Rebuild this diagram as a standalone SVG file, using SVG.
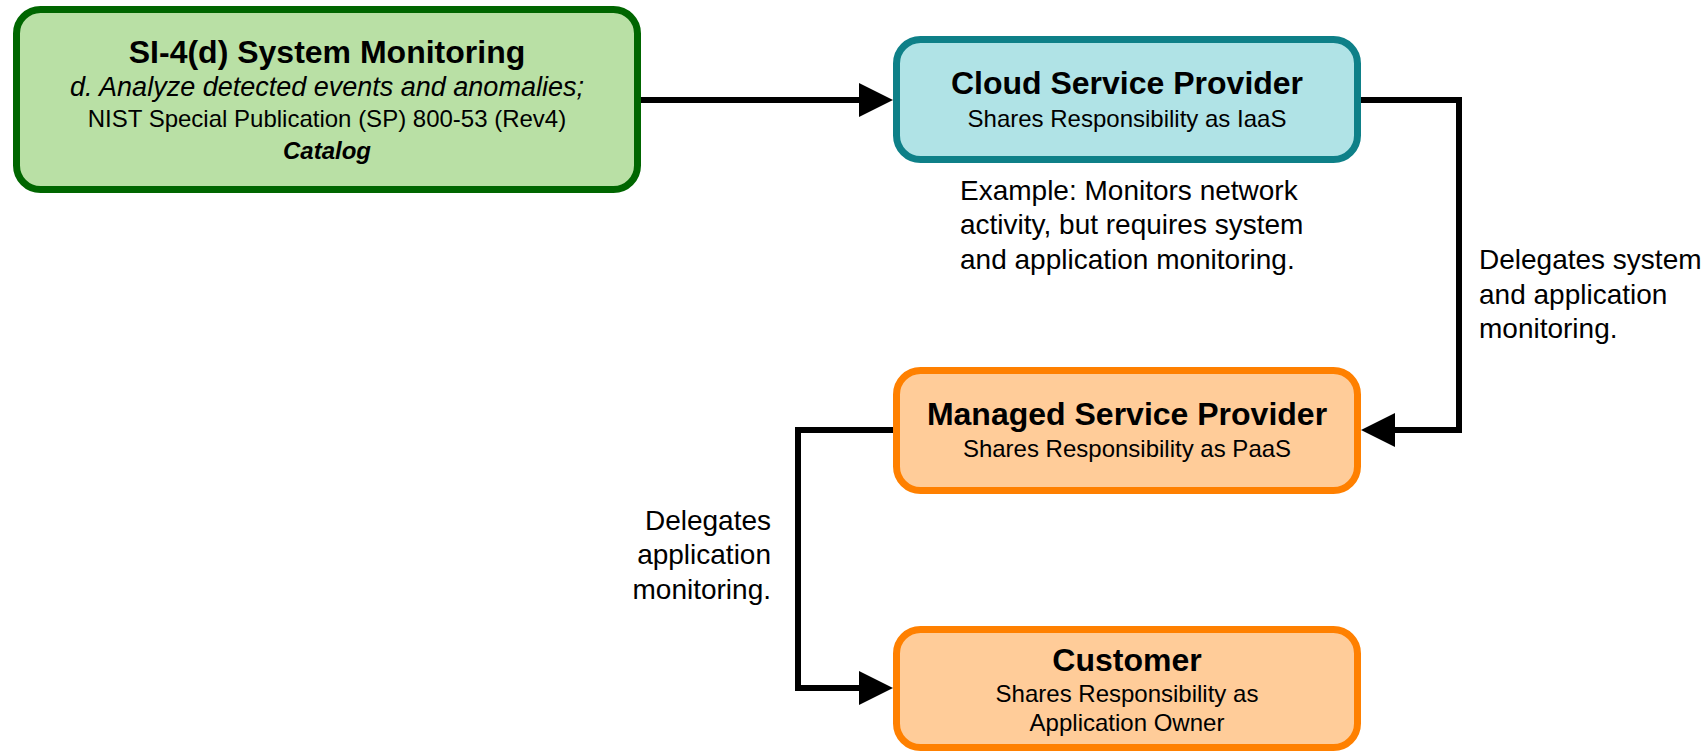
<svg xmlns="http://www.w3.org/2000/svg" width="1708" height="751" viewBox="0 0 1708 751">
<style>
text{font-family:"Liberation Sans",Arial,Helvetica,sans-serif;fill:#000}
.t{font-size:32px;font-weight:bold;text-anchor:middle}
.s{font-size:24px;text-anchor:middle}
.i{font-size:27px;font-style:italic;text-anchor:middle}
.c{font-size:24px;font-style:italic;font-weight:bold;text-anchor:middle}
.a{font-size:28px}
.box{stroke-width:7}
.green{fill:#b9e0a5;stroke:#006600}
.teal{fill:#b0e3e6;stroke:#0e8088}
.orange{fill:#ffcc99;stroke:#ff8000}
.edge{fill:none;stroke:#000;stroke-width:6;stroke-linejoin:miter}
</style>
<defs>
<marker id="arr" viewBox="0 0 34 34" markerWidth="34" markerHeight="34" refX="1" refY="17" orient="auto" markerUnits="userSpaceOnUse">
<path d="M0,0 L34,17 L0,34 Z" fill="#000"/>
</marker>
</defs>
<rect width="1708" height="751" fill="#fff"/>
<g id="connectors">
<path class="edge" d="M641,100 H860" marker-end="url(#arr)"/>
<path class="edge" d="M1361,100 H1459 V430 H1394" marker-end="url(#arr)"/>
<path class="edge" d="M893,430 H798 V688 H860" marker-end="url(#arr)"/>
</g>
<g id="si4">
<rect class="box green" x="16.5" y="9.5" width="621" height="180" rx="24"/>
<text class="t" x="327" y="63">SI-4(d) System Monitoring</text>
<text class="i" x="327" y="96">d. Analyze detected events and anomalies;</text>
<text class="s" x="327" y="127">NIST Special Publication (SP) 800-53 (Rev4)</text>
<text class="c" x="327" y="159">Catalog</text>
</g>
<g id="csp">
<rect class="box teal" x="896.5" y="39.5" width="461" height="120" rx="24"/>
<text class="t" x="1127" y="94">Cloud Service Provider</text>
<text class="s" x="1127" y="127">Shares Responsibility as IaaS</text>
</g>
<g id="csp-note">
<text class="a" x="960" y="200">Example: Monitors network</text>
<text class="a" x="960" y="234">activity, but requires system</text>
<text class="a" x="960" y="269">and application monitoring.</text>
</g>
<g id="msp">
<rect class="box orange" x="896.5" y="370.5" width="461" height="120" rx="24"/>
<text class="t" x="1127" y="425">Managed Service Provider</text>
<text class="s" x="1127" y="457">Shares Responsibility as PaaS</text>
</g>
<g id="customer">
<rect class="box orange" x="896.5" y="629.5" width="461" height="118" rx="24"/>
<text class="t" x="1127" y="671">Customer</text>
<text class="s" x="1127" y="702">Shares Responsibility as</text>
<text class="s" x="1127" y="731">Application Owner</text>
</g>
<g id="label-csp-msp">
<text class="a" x="1479" y="269">Delegates system</text>
<text class="a" x="1479" y="304">and application</text>
<text class="a" x="1479" y="338">monitoring.</text>
</g>
<g id="label-msp-customer">
<text class="a" x="771" y="530" text-anchor="end">Delegates</text>
<text class="a" x="771" y="564" text-anchor="end">application</text>
<text class="a" x="771" y="599" text-anchor="end">monitoring.</text>
</g>
</svg>
